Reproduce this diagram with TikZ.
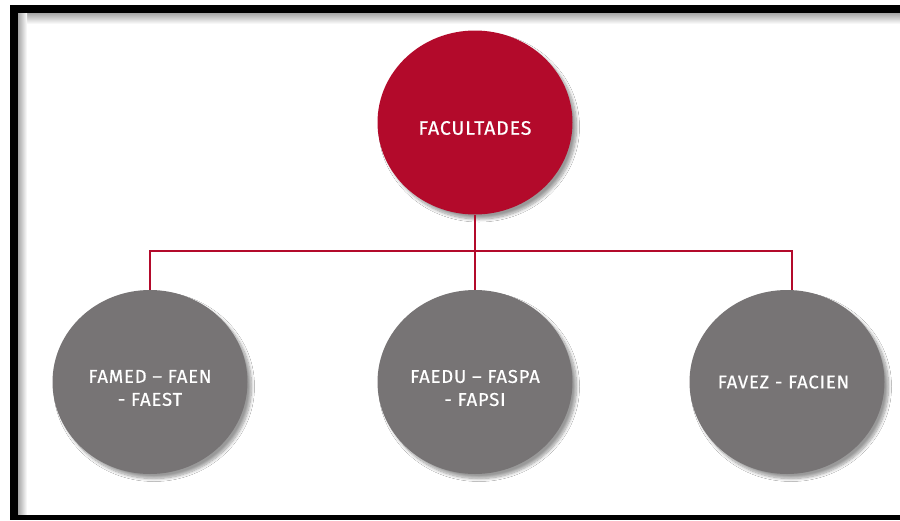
\documentclass[tikz,border=0pt]{standalone}
\usepackage{fontspec}
\setmainfont{Fira Sans}[LetterSpace=4.5, FakeBold=0.5]
\usetikzlibrary{shapes.geometric,shadows.blur}
\definecolor{facred}{HTML}{B30A2B}
\definecolor{facgrey}{HTML}{777475}
\tikzset{
  bubble/.style={ellipse, minimum width=195pt, minimum height=184pt, inner sep=0pt,
    blur shadow={shadow xshift=4pt, shadow yshift=-4.5pt, shadow blur steps=10, shadow opacity=40, shadow blur radius=3pt}},
  redbubble/.style={bubble, fill=facred},
  greybubble/.style={bubble, fill=facgrey},
  lbl/.style={text=white, align=center, font=\fontsize{18.5}{23}\selectfont},
  link/.style={draw=facred, line width=2.2pt},
  linkshadow/.style={draw=black!12, line width=2.5pt}
}
\begin{document}
\begin{tikzpicture}[x=1pt,y=-1pt]
\useasboundingbox (0,0) rectangle (900,520);
\fill[white] (0,0) rectangle (900,520);
% inner shadow of frame
\shade[top color=black!35, bottom color=white] (18,13) rectangle (900,24);
\shade[left color=black!35, right color=white] (18,13) rectangle (27,515);
% frame
\fill[black] (10,5) rectangle (900,13);
\fill[black] (10,5) rectangle (18,520);
\fill[black] (10,515) rectangle (900,520);

\node[redbubble] (top) at (475,122.5) {};
\node[greybubble] (a) at (150,382) {};
\node[greybubble] (b) at (475,382) {};
\node[greybubble] (c) at (787,382) {};

\coordinate (jl) at (150,251);
\coordinate (jm) at (475,251);
\coordinate (jr) at (792,251);

\draw[linkshadow,xshift=2pt,yshift=-2pt] (jl) -- (jr) -- (jr |- c.north);
\draw[linkshadow,xshift=2pt,yshift=-2pt] (jl) -- (jl |- a.north);
\draw[linkshadow,xshift=2pt,yshift=-2pt] (top.south) -- (b.north);
\draw[link] (top.south) -- (jm);
\draw[link] (jm) -- (b.north);
\draw[link] (jl |- a.north) -- (jl) -- (jr) -- (jr |- c.north);

\node[lbl] (ttop) at ([yshift=-5.5pt]top.center) {\fontsize{19.5}{23}\selectfont FACULTADES};
\node[lbl] (ta) at ([yshift=-6pt]a.center) {FAMED – FAEN\\- FAEST};
\node[lbl] (tb) at ([yshift=-6pt]b.center) {FAEDU – FASPA\\- FAPSI};
\node[lbl] (tc) at ([xshift=-3.5pt]c.center) {FAVEZ - FACIEN};
\end{tikzpicture}
\end{document}
